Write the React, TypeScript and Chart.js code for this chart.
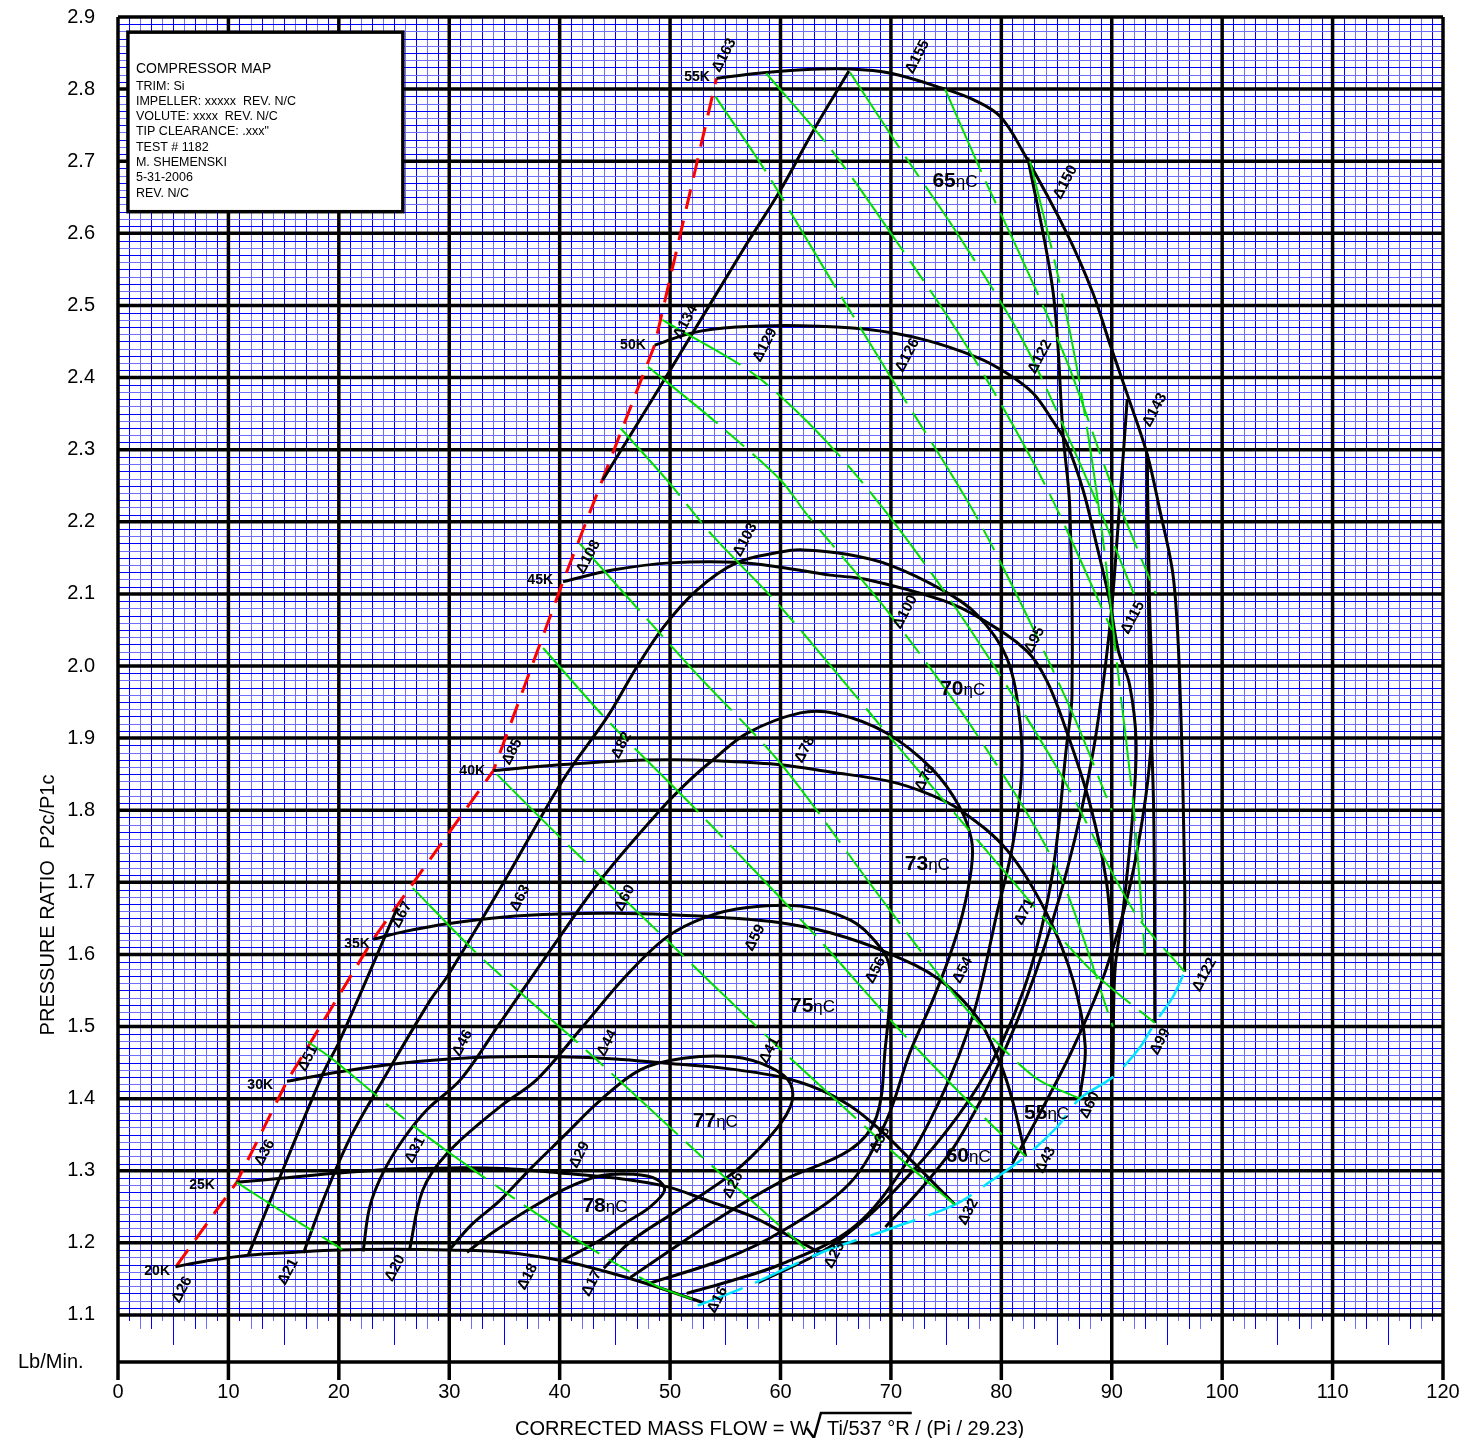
import { useEffect, useRef } from 'react';
import { Chart, registerables } from 'chart.js';
Chart.register(...registerables);

type P = [number, number];

const yTickValues = [1.1, 1.2, 1.3, 1.4, 1.5, 1.6, 1.7, 1.8, 1.9, 2.0, 2.1, 2.2, 2.3, 2.4, 2.5, 2.6, 2.7, 2.8, 2.9];
const xTickValues = [0, 10, 20, 30, 40, 50, 60, 70, 80, 90, 100, 110, 120];

const speed20K: P[] = [[5.2,1.167],[8,1.175],[11.8,1.183],[16,1.187],[20,1.19],[25,1.191],[30,1.19],[35,1.187],[40,1.176],[44,1.161],[48.2,1.142],[53,1.117]];
const speed25K: P[] = [[10.75,1.284],[15,1.29],[20,1.297],[25,1.302],[30,1.304],[35,1.303],[40,1.297],[45,1.29],[49.7,1.278],[53.5,1.258],[57.2,1.238],[60.5,1.212],[63.6,1.186]];
const speed30K: P[] = [[15.3,1.424],[20,1.437],[25,1.448],[30,1.455],[35,1.458],[40,1.458],[45,1.455],[49.7,1.449],[55,1.442],[60,1.43],[63.5,1.413],[66.3,1.39],[69,1.357],[72,1.312],[75.8,1.253]];
const speed35K: P[] = [[23.1,1.621],[26,1.632],[30,1.643],[35,1.652],[40,1.656],[45,1.657],[50,1.655],[55,1.651],[60,1.644],[64.5,1.63],[69.6,1.603],[74.4,1.565],[77.8,1.513],[79.9,1.449],[81,1.398],[82.2,1.32]];
const speed40K: P[] = [[34,1.855],[40,1.863],[45,1.868],[50,1.87],[55,1.868],[60,1.863],[64.5,1.853],[69.9,1.84],[73.5,1.822],[76.3,1.8],[80.5,1.745],[84.1,1.657],[86.5,1.564],[87.6,1.472],[87.1,1.4]];
const speed45K: P[] = [[40.3,2.117],[44.8,2.133],[50,2.143],[56,2.144],[60,2.137],[64.5,2.126],[67.8,2.12],[74.7,2.091],[78.1,2.066],[82.3,2.021],[84.1,1.98],[85.9,1.91],[88,1.81],[89.5,1.703],[90,1.61],[90.1,1.5],[90.1,1.43]];
const speed50K: P[] = [[48.6,2.445],[52,2.462],[56,2.47],[61.8,2.472],[67.8,2.467],[72.9,2.453],[77.8,2.428],[80.5,2.406],[82.9,2.378],[84.7,2.339],[85.9,2.309],[87.4,2.244],[88.6,2.17],[89.8,2.091],[90.6,2.021],[91.6,1.975],[92.2,1.896],[91.9,1.795],[91,1.657],[90.3,1.58],[90.1,1.45]];
const speed55K: P[] = [[54.2,2.815],[58,2.822],[62,2.827],[66.3,2.828],[70,2.822],[74.7,2.801],[77.5,2.785],[79.9,2.762],[82,2.712],[85.9,2.601],[88.3,2.517],[89.8,2.448],[91.6,2.368],[93.2,2.294],[94.3,2.22],[95.6,2.12],[96.2,1.96],[96.6,1.703],[96.6,1.576]];

const surgeLine: P[] = [[5.3,1.168],[10.75,1.284],[15.3,1.424],[23.1,1.621],[34,1.855],[40.3,2.117],[48.6,2.445],[54.2,2.815]];
const chokeLine: P[] = [[52.5,1.113],[57,1.14],[63.6,1.186],[70,1.22],[75.8,1.253],[79,1.285],[82.2,1.32],[85,1.36],[87.1,1.4],[90.1,1.43],[92.5,1.47],[93.9,1.505],[95.5,1.54],[96.6,1.576]];

const eff78: P[] = [[31.6,1.187],[34,1.215],[37.6,1.25],[40.5,1.275],[43.7,1.293],[46.7,1.295],[48.8,1.288],[49.5,1.273],[48.2,1.25],[46,1.228],[43.7,1.204],[40.3,1.176]];
const eff77: P[] = [[30,1.19],[32,1.225],[34.6,1.259],[37.5,1.305],[40.3,1.347],[43.7,1.398],[47.3,1.44],[51.2,1.456],[55.7,1.458],[59,1.444],[60.9,1.421],[60.9,1.389],[58.8,1.343],[55.7,1.297],[51.2,1.25],[46.6,1.204],[44,1.165]];
const eff75: P[] = [[26.4,1.19],[27.6,1.273],[29.8,1.324],[34.6,1.389],[37.9,1.426],[42.1,1.5],[46,1.57],[49.7,1.624],[53.3,1.652],[57,1.665],[61.8,1.667],[66.3,1.648],[68.7,1.616],[69.8,1.588],[69.9,1.541],[69.5,1.472],[68.7,1.375],[66.3,1.329],[60.3,1.287],[54.2,1.232],[46.4,1.152]];
const eff73: P[] = [[22.2,1.188],[22.8,1.25],[24,1.297],[25.8,1.343],[28,1.385],[31,1.426],[34.6,1.505],[39.8,1.62],[43.9,1.707],[49.1,1.8],[51.8,1.842],[53.9,1.87],[57,1.907],[61.8,1.935],[65,1.934],[69.6,1.907],[73.8,1.856],[76.2,1.805],[77.3,1.759],[77.3,1.721],[76.5,1.657],[75.3,1.597],[73.8,1.537],[71.7,1.463],[69.6,1.37],[66.3,1.283],[60,1.215],[55,1.178],[47.9,1.143]];
const eff70: P[] = [[16.8,1.186],[18.6,1.26],[21,1.345],[24,1.426],[28.3,1.537],[29.8,1.569],[35.2,1.707],[40.3,1.842],[44.3,1.929],[47,1.999],[49.4,2.054],[52.4,2.105],[56,2.143],[60,2.158],[62,2.161],[66,2.155],[69.9,2.14],[74.7,2.105],[77.8,2.071],[80.5,2.011],[81.7,1.921],[81.8,1.842],[81,1.749],[79.6,1.657],[77.5,1.519],[74.5,1.4],[70.5,1.29],[66.3,1.218],[60,1.17],[55,1.145],[51.5,1.13]];
const eff65a: P[] = [[11.8,1.183],[13.8,1.259],[18.6,1.436],[20.1,1.481],[25.3,1.665]];
const eff65b: P[] = [[43.9,2.258],[50,2.41],[56.6,2.577],[60,2.66],[63,2.743],[66.2,2.825]];
const eff65c: P[] = [[82.4,2.705],[84.7,2.517],[85.6,2.319],[86.2,2.22],[86.4,1.96],[85.9,1.888],[84.5,1.7],[82,1.55],[78,1.42],[72,1.3],[65,1.2],[58,1.145]];
const eff60: P[] = [[69.5,1.222],[73,1.28],[76,1.34],[79.5,1.44],[83,1.57],[86,1.72],[88.3,1.88],[89.8,2.05],[90.6,2.2],[91.4,2.37]];
const eff55: P[] = [[81,1.31],[83.5,1.38],[86.5,1.47],[89.5,1.58],[92,1.72],[93.6,1.9],[93.4,2.1],[93.2,2.294]];
const eff55b: P[] = [[93.2,2.294],[93.4,2.0],[93.8,1.796],[93.9,1.505]];

const green1: P[] = [[10.75,1.284],[15,1.242],[20.4,1.19]];
const green2: P[] = [[17.1,1.48],[19.5,1.454],[26.1,1.37],[30,1.325],[37,1.25],[42,1.2],[48.5,1.142],[52,1.122]];
const green3: P[] = [[26.7,1.692],[32.8,1.597],[42.7,1.463],[52.7,1.322],[58,1.25],[62.7,1.186]];
const green4: P[] = [[34.3,1.85],[40,1.763],[49.7,1.62],[58.8,1.486],[66.3,1.38],[71,1.315],[75.8,1.253]];
const green5: P[] = [[38.5,2.025],[44.3,1.925],[52.4,1.8],[62.7,1.634],[71.1,1.49],[78.7,1.37],[82.2,1.32]];
const green6: P[] = [[41.8,2.17],[52.1,1.994],[60,1.865],[69,1.68],[76.9,1.523],[83,1.43],[87.1,1.4]];
const green7: P[] = [[45.5,2.33],[49.7,2.258],[53.9,2.18],[60,2.082],[70,1.9],[80,1.72],[88,1.58],[93.9,1.505]];
const green7b: P[] = [[48,2.415],[54,2.34],[60,2.258],[62.4,2.21],[70,2.07],[78,1.9],[85,1.72],[90.1,1.5]];
const green8: P[] = [[49.3,2.48],[58,2.4],[66,2.28],[75,2.1],[85,1.86],[92,1.66],[96.6,1.576]];
const green9: P[] = [[54.1,2.79],[58.9,2.68],[64,2.55],[70,2.4],[78,2.2],[86,1.95],[90,1.8]];
const green10: P[] = [[58.7,2.822],[64.5,2.718],[70,2.6],[77,2.44],[84,2.25],[90,2.05]];
const green11: P[] = [[66.3,2.823],[71.1,2.711],[76,2.6],[82,2.45],[88,2.25],[92,2.1]];
const green12: P[] = [[74.9,2.8],[78.4,2.678],[82,2.56],[86,2.42],[90,2.25],[94,2.1]];
const green13: P[] = [[82.6,2.7],[85,2.55],[87,2.4],[89,2.2],[90.5,2.0],[92,1.8],[93,1.6]];

const speedNames = ['20K','25K','30K','35K','40K','45K','50K','55K'];
const speedLabelPos: P[] = [[4.71,1.161],[8.78,1.28],[14.04,1.419],[22.82,1.614],[33.24,1.854],[39.4,2.119],[47.8,2.445],[53.6,2.817]];

const deltaTexts = ['Δ26','Δ21','Δ20','Δ18','Δ17','Δ16','Δ36','Δ31','Δ29','Δ26','Δ23','Δ51','Δ46','Δ44','Δ41','Δ38','Δ32','Δ67','Δ63','Δ60','Δ59','Δ56','Δ54','Δ43','Δ85','Δ82','Δ78','Δ76','Δ71','Δ60','Δ108','Δ103','Δ100','Δ95','Δ115','Δ99','Δ134','Δ129','Δ126','Δ122','Δ143','Δ122','Δ163','Δ155','Δ150'];
const deltaPos: P[] = [[5.8,1.135],[15.4,1.16],[25.1,1.165],[37.1,1.153],[42.9,1.144],[54.3,1.121],[13.3,1.325],[26.9,1.329],[41.8,1.322],[55.7,1.28],[64.9,1.183],[17.2,1.456],[31.2,1.477],[44.3,1.477],[59.0,1.467],[69.0,1.343],[77.0,1.243],[25.7,1.655],[36.4,1.678],[45.9,1.678],[57.7,1.623],[68.6,1.578],[76.5,1.578],[84.0,1.315],[35.7,1.881],[45.6,1.89],[62.2,1.884],[73.1,1.845],[82.1,1.659],[88.0,1.391],[42.6,2.151],[56.8,2.175],[71.3,2.075],[83.0,2.036],[91.9,2.067],[94.4,1.479],[51.4,2.477],[58.6,2.445],[71.5,2.431],[83.5,2.429],[93.9,2.355],[98.4,1.572],[54.9,2.847],[72.4,2.845],[85.8,2.671]];

const effNames = ['78','77','75','73','70','65','60','55'];
const effLabelPos: P[] = [[44.1,1.253],[54.1,1.37],[62.9,1.53],[73.3,1.727],[76.5,1.97],[75.8,2.674],[77.0,1.322],[84.1,1.382]];

const infoLines = ['TRIM: Si','IMPELLER: xxxxx  REV. N/C','VOLUTE: xxxx  REV. N/C','TIP CLEARANCE: .xxx"','TEST # 1182','M. SHEMENSKI','5-31-2006','REV. N/C'];

const FONT = '"Liberation Sans", Arial, Helvetica, sans-serif';

function pts(a: P[]) { return a.map(([x, y]) => ({ x, y })); }

export default function App() {
  const ref = useRef<HTMLCanvasElement | null>(null);
  useEffect(() => {
    document.body.style.margin = '0';
    const canvas = ref.current!;
    const black = (d: P[], label: string) => ({ label, data: pts(d), borderColor: '#000', borderWidth: 3, showLine: true, pointRadius: 0, tension: 0.35, fill: false });
    const green = (d: P[], i: number) => ({ label: 'g' + i, data: pts(d), borderColor: '#00e000', borderWidth: 2, borderDash: [90, 11, 24, 11], showLine: true, pointRadius: 0, tension: 0.3, fill: false });
    const datasets: any[] = [
      ...[green1, green2, green3, green4, green5, green6, green7, green7b, green8, green9, green10, green11, green12, green13].map(green),
      { label: 'choke', data: pts(chokeLine), borderColor: '#00e5ff', borderWidth: 2.5, borderDash: [48, 14], showLine: true, pointRadius: 0, tension: 0.3 },
      ...[eff78, eff77, eff75, eff73, eff70, eff65a, eff65b, eff65c, eff60, eff55, eff55b].map((d, i) => black(d, 'e' + i)),
      ...[speed20K, speed25K, speed30K, speed35K, speed40K, speed45K, speed50K, speed55K].map((d, i) => black(d, speedNames[i])),
      { label: 'surge', data: pts(surgeLine), borderColor: '#ff0000', borderWidth: 3, borderDash: [20, 12], showLine: true, pointRadius: 0, tension: 0 },
    ];

    const gridPlugin = {
      id: 'mapGrid',
      beforeDraw(chart: any) {
        const c = chart.ctx;
        c.save(); c.fillStyle = '#fff'; c.fillRect(0, 0, chart.width, chart.height); c.restore();
      },
      beforeDatasetsDraw(chart: any) {
        const c = chart.ctx;
        const { left, right, top, bottom } = chart.chartArea;
        const xs = chart.scales.x, ys = chart.scales.y;
        const y11 = ys.getPixelForValue(1.1);
        c.save();
        const tickLen: Record<number, number> = { 1: 6, 2: 14, 3: 14, 4: 6, 5: 30, 6: 6, 7: 14, 8: 14, 9: 6 };
        c.lineWidth = 1;
        for (let i = 1; i < 120; i++) {
          if (i % 10 === 0) continue;
          const px = Math.round(xs.getPixelForValue(i)) + 0.5;
          c.strokeStyle = i % 2 ? '#0000ff' : '#6f6fff';
          c.beginPath(); c.moveTo(px, top); c.lineTo(px, y11 + tickLen[i % 10]); c.stroke();
        }
        for (let j = 111; j < 290; j++) {
          if (j % 10 === 0) continue;
          const py = Math.round(ys.getPixelForValue(j / 100)) + 0.5;
          c.strokeStyle = j % 2 ? '#0000ff' : '#6f6fff';
          c.beginPath(); c.moveTo(left, py); c.lineTo(right, py); c.stroke();
        }
        c.strokeStyle = '#000';
        c.lineWidth = 3.5;
        for (const i of xTickValues) {
          const px = xs.getPixelForValue(i);
          c.beginPath(); c.moveTo(px, top); c.lineTo(px, bottom + 18); c.stroke();
        }
        for (const v of yTickValues) {
          const py = ys.getPixelForValue(v);
          c.beginPath(); c.moveTo(left, py); c.lineTo(right, py); c.stroke();
        }
        c.beginPath(); c.moveTo(left, bottom); c.lineTo(right, bottom); c.stroke();
        c.fillStyle = '#000';
        c.font = `20px ${FONT}`;
        c.textAlign = 'right'; c.textBaseline = 'middle';
        for (const v of yTickValues) c.fillText(v.toFixed(1), left - 23, ys.getPixelForValue(v));
        c.textAlign = 'center';
        for (const v of xTickValues) c.fillText(String(v), xs.getPixelForValue(v), bottom + 30);
        const bx1 = xs.getPixelForValue(0.9), bx2 = xs.getPixelForValue(25.8);
        const by1 = ys.getPixelForValue(2.879), by2 = ys.getPixelForValue(2.63);
        c.fillStyle = '#fff';
        c.fillRect(bx1, by1, bx2 - bx1, by2 - by1);
        c.lineWidth = 3.5;
        c.strokeRect(bx1, by1, bx2 - bx1, by2 - by1);
        c.fillStyle = '#000';
        c.textAlign = 'left'; c.textBaseline = 'middle';
        c.font = `14px ${FONT}`;
        c.fillText('COMPRESSOR MAP', bx1 + 8, by1 + 37);
        c.font = `12.5px ${FONT}`;
        infoLines.forEach((t, k) => c.fillText(t, bx1 + 8, by1 + 54 + k * 15.3));
        c.restore();
      },
      afterDatasetsDraw(chart: any) {
        const c = chart.ctx;
        const xs = chart.scales.x, ys = chart.scales.y;
        const { bottom } = chart.chartArea;
        c.save();
        c.fillStyle = '#000';
        c.font = `bold 14px ${FONT}`;
        c.textAlign = 'right'; c.textBaseline = 'middle';
        speedNames.forEach((n, i) => c.fillText(n, xs.getPixelForValue(speedLabelPos[i][0]), ys.getPixelForValue(speedLabelPos[i][1])));
        c.textAlign = 'center';
        c.font = `bold 15px ${FONT}`;
        deltaTexts.forEach((t, i) => {
          c.save();
          c.translate(xs.getPixelForValue(deltaPos[i][0]), ys.getPixelForValue(deltaPos[i][1]));
          c.rotate(-62 * Math.PI / 180);
          c.fillText(t, 0, 0);
          c.restore();
        });
        effNames.forEach((n, i) => {
          c.font = `bold 21px ${FONT}`;
          const w1 = c.measureText(n).width;
          c.font = `17px ${FONT}`;
          const w2 = c.measureText('ηC').width;
          const x0 = xs.getPixelForValue(effLabelPos[i][0]) - (w1 + w2) / 2;
          const y0 = ys.getPixelForValue(effLabelPos[i][1]) + 7;
          c.textAlign = 'left'; c.textBaseline = 'alphabetic';
          c.font = `bold 21px ${FONT}`;
          c.fillText(n, x0, y0);
          c.font = `17px ${FONT}`;
          c.fillText('ηC', x0 + w1, y0);
        });
        c.font = `20px ${FONT}`;
        c.textAlign = 'left'; c.textBaseline = 'middle';
        c.fillText('Lb/Min.', 18, bottom);
        c.save();
        c.translate(48, 905);
        c.rotate(-Math.PI / 2);
        c.textAlign = 'center';
        c.fillText('PRESSURE RATIO  P2c/P1c', 0, 0);
        c.restore();
        c.textBaseline = 'alphabetic';
        const t1 = 'CORRECTED MASS FLOW = W';
        const t2 = 'Ti/537 °R';
        const t3 = ' / (Pi / 29.23)';
        const x1 = 515, yb = 1435;
        c.fillText(t1, x1, yb);
        const xw = x1 + c.measureText(t1).width;
        const sx = xw + 18;
        const w2 = c.measureText(t2).width;
        c.fillText(t2, sx, yb);
        c.fillText(t3, sx + w2, yb);
        c.strokeStyle = '#000'; c.lineWidth = 2.5;
        c.beginPath();
        c.moveTo(xw - 2, 1428); c.lineTo(xw + 5, 1438); c.lineTo(xw + 12, 1413); c.lineTo(sx + w2 + 2, 1413);
        c.stroke();
        c.restore();
      },
    };

    const chart = new Chart(canvas, {
      type: 'scatter',
      data: { datasets },
      options: {
        responsive: false,
        animation: false,
        layout: { padding: { left: 118, top: 17, right: 26, bottom: 76 } },
        plugins: { legend: { display: false }, tooltip: { enabled: false } },
        scales: {
          x: { type: 'linear', min: 0, max: 120, display: false },
          y: { type: 'linear', min: 1.0348, max: 2.9, display: false },
        },
      },
      plugins: [gridPlugin],
    } as any);
    return () => chart.destroy();
  }, []);
  return (
    <div style={{ width: 1469, height: 1438, position: 'relative' }}>
      <canvas ref={ref} width={1469} height={1438} style={{ display: 'block' }} />
    </div>
  );
}
